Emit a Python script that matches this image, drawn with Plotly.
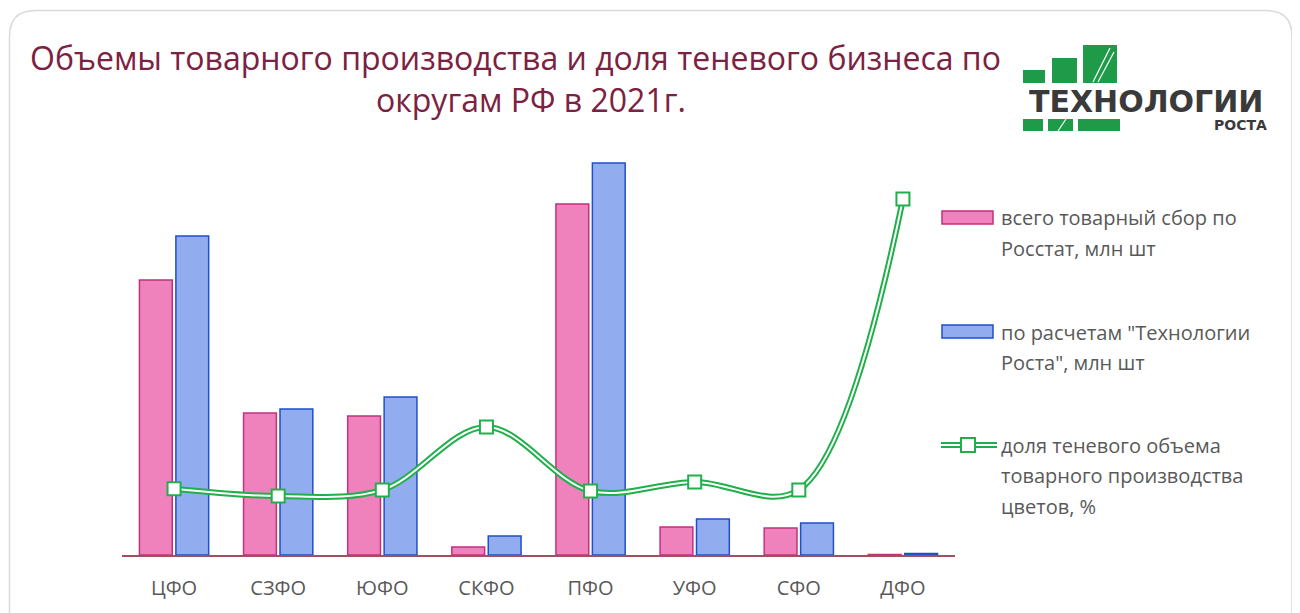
import plotly.graph_objects as go

categories = ["ЦФО", "СЗФО", "ЮФО", "СКФО", "ПФО", "УФО", "СФО", "ДФО"]
rosstat = [275, 142, 139, 8, 351, 28, 27, 0.6]
tech_rost = [319, 146, 158, 19, 392, 36, 32, 1.5]
shadow_share = [18.2, 16.2, 17.9, 35.2, 17.6, 20.1, 17.9, 97.9]

names = [
    ["всего товарный сбор по", "Росстат, млн шт"],
    ["по расчетам \"Технологии", "Роста\", млн шт"],
    ["доля теневого объема", "товарного производства", "цветов, %"],
]
title_lines = ["Объемы товарного производства и доля теневого бизнеса по", "округам РФ в 2021г."]

OFF = 8  # default page body margin
W, H = 1300 - OFF, 613 - OFF
L, R, T, B = 122, 955, 150, 555  # in screen pixels

def px(x):
    return (x - L) / (R - L)

def py(y):
    return (B - y) / (B - T)

PINK, PINK_E = "#EF82BD", "#C2307F"
BLUE, BLUE_E = "#92ADEF", "#1F4FCB"
GREEN = "#20B04B"
TXT = "#595959"

fig = go.Figure()
fig.add_trace(go.Bar(x=categories, y=rosstat, name=" ".join(names[0]),
                     marker=dict(color=PINK, line=dict(color=PINK_E, width=1.5))))
fig.add_trace(go.Bar(x=categories, y=tech_rost, name=" ".join(names[1]),
                     marker=dict(color=BLUE, line=dict(color=BLUE_E, width=1.5))))
fig.add_trace(go.Scatter(x=categories, y=shadow_share, yaxis="y2", mode="lines",
                         line=dict(color=GREEN, width=6, shape="spline", smoothing=1.0),
                         showlegend=False, hoverinfo="skip"))
fig.add_trace(go.Scatter(x=categories, y=shadow_share, yaxis="y2", mode="lines+markers",
                         name=" ".join(names[2]),
                         line=dict(color="white", width=2, shape="spline", smoothing=1.0),
                         marker=dict(symbol="square", size=13, color="white",
                                     line=dict(color=GREEN, width=2))))

shapes = []
# rounded border
x0, y0, x1, y1, r = 9.5, 10.5, 1292.0, 640, 26
path = (f"M {px(x0)},{py(y0 + r)} L {px(x0)},{py(y1)} "
        f"M {px(x1)},{py(y1)} L {px(x1)},{py(y0 + r)} "
        f"Q {px(x1)},{py(y0)} {px(x1 - r)},{py(y0)} "
        f"L {px(x0 + r)},{py(y0)} Q {px(x0)},{py(y0)} {px(x0)},{py(y0 + r)}")
shapes.append(dict(type="path", xref="paper", yref="paper", path=path,
                   line=dict(color="#D9D9D9", width=1.5)))

def rect(xa, ya, xb, yb, fill, line=None, lw=0):
    shapes.append(dict(type="rect", xref="paper", yref="paper",
                       x0=px(xa), x1=px(xb), y0=py(yb), y1=py(ya),
                       fillcolor=fill, line=dict(color=line or fill, width=lw)))

# legend swatches
rect(942, 211, 993, 224, PINK, PINK_E, 1.5)
rect(942, 325, 993, 338, BLUE, BLUE_E, 1.5)
shapes.append(dict(type="line", xref="paper", yref="paper", x0=px(941), x1=px(997),
                   y0=py(445), y1=py(445), line=dict(color=GREEN, width=6)))
shapes.append(dict(type="line", xref="paper", yref="paper", x0=px(941), x1=px(997),
                   y0=py(445), y1=py(445), line=dict(color="white", width=2)))
rect(961, 438, 975, 452, "white", GREEN, 2)

# logo
LG = "#1E9A48"
rect(1023, 70, 1045, 83, LG)
rect(1052, 58, 1077, 83, LG)
rect(1083, 45, 1117, 83, LG)
rect(1023, 119, 1043, 131, LG)
rect(1048, 119, 1073, 131, LG)
rect(1078, 119, 1120, 131, LG)
for (a, b, c, d) in [(1093, 82, 1110, 48), (1098, 82, 1114, 52), (1058, 131, 1066, 119)]:
    shapes.append(dict(type="line", xref="paper", yref="paper", x0=px(a), x1=px(c),
                       y0=py(b), y1=py(d), line=dict(color="white", width=1.2)))

annotations = []
for txt, cx, cy in zip(title_lines, [515, 531], [57, 100]):
    annotations.append(dict(text=txt, x=px(cx), y=py(cy), xref="paper", yref="paper",
                            showarrow=False, xanchor="center", yanchor="middle",
                            font=dict(family="Open Sans", size=32, color="#7B2141")))
annotations.append(dict(text="<b>ТЕХНОЛОГИИ</b>", x=px(1146), y=py(101.5), xref="paper",
                        yref="paper", showarrow=False, xanchor="center", yanchor="middle",
                        height=27, valign="middle",
                        font=dict(family="DejaVu Sans", size=30, color="#3A3A3A")))
annotations.append(dict(text="<b>РОСТА</b>", x=px(1269), y=py(125), xref="paper", yref="paper",
                        showarrow=False, xanchor="right", yanchor="middle",
                        height=15, valign="middle",
                        font=dict(family="DejaVu Sans", size=14, color="#3A3A3A")))
for lines, ytop in zip(names, [218, 332, 445]):
    for i, ln in enumerate(lines):
        annotations.append(dict(text=ln, x=px(999), y=py(ytop + 30.5 * i), xref="paper",
                                yref="paper", showarrow=False, xanchor="left",
                                yanchor="middle", align="left",
                                font=dict(family="Open Sans", size=20, color=TXT)))

fig.update_layout(
    width=W, height=H,
    margin=dict(l=L - OFF, r=W - (R - OFF), t=T - OFF, b=H - (B - OFF)),
    paper_bgcolor="white", plot_bgcolor="white",
    barmode="group", bargap=0.30, bargroupgap=0.1,
    showlegend=False,
    xaxis=dict(showline=True, linecolor="#A0505F", linewidth=2, showgrid=False,
               ticks="", tickfont=dict(family="Open Sans", size=20, color=TXT),
               ticklabelstandoff=14),
    yaxis=dict(visible=False, range=[0, 405], showgrid=False),
    yaxis2=dict(visible=False, range=[0, 111.4], overlaying="y", showgrid=False),
    shapes=shapes, annotations=annotations,
)

fig.write_html("out.html")
